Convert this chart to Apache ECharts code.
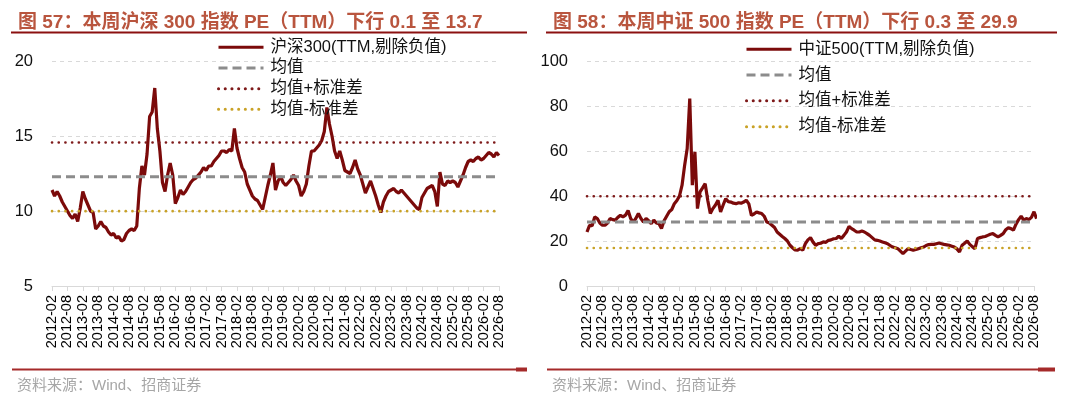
<!DOCTYPE html>
<html>
<head>
    <meta charset="UTF-8">
    <title>沪深300 / 中证500 PE(TTM)</title>
    <script src="https://cdn.jsdelivr.net/npm/echarts@6/dist/echarts.min.js"></script>
    <style>
        html, body {margin: 0; padding: 0; background: #fff;}
        #pe {width: 1080px; height: 408px;}
    </style>
</head>
<body>
<div id="pe"></div>
<script type="text/javascript">

    // monthly categories 2012-02 .. 2026-08
    var months = [];
    for (var y = 2012; y <= 2026; y++) {
        for (var mo = 1; mo <= 12; mo++) {
            if (y == 2012 && mo < 2) continue;
            if (y == 2026 && mo > 8) break;
            months.push(y + '-' + (mo < 10 ? '0' + mo : mo));
        }
    }

    var titleHs = '图 57：本周沪深 300 指数 PE（TTM）下行 0.1 至 13.7';
    var titleZz = '图 58：本周中证 500 指数 PE（TTM）下行 0.3 至 29.9';
    var source = '资料来源：Wind、招商证券';

    // 沪深300 PE(TTM), one value per month
    var hs300 = [
        11.4, 11.0, 11.3, 11.0, 10.6, 10.3, 10.0, 9.7, 9.5, 9.8, 9.3, 10.2,
        11.3, 10.8, 10.4, 10.0, 9.9, 8.8, 9.0, 9.3, 9.0, 8.9, 8.6, 8.4,
        8.5, 8.2, 8.3, 8.0, 8.1, 8.5, 8.7, 8.8, 8.7, 9.0, 11.5, 13.0,
        12.4, 13.8, 16.3, 16.6, 18.2, 15.5, 14.0, 11.9, 11.3, 12.4, 13.2, 12.4,
        10.5, 10.9, 11.4, 11.1, 11.3, 11.6, 11.9, 12.1, 12.2, 12.4, 12.6, 12.9,
        12.7, 13.0, 13.0, 13.3, 13.5, 13.7, 14.0, 14.0, 13.9, 14.1, 14.0, 15.5,
        14.2, 13.5, 12.9, 12.6, 11.8, 11.4, 11.0, 10.8, 10.7, 10.4, 10.1, 10.9,
        11.7, 12.4, 13.2, 11.4, 12.0, 12.3, 11.9, 11.7, 11.9, 12.1, 12.4, 12.0,
        11.7, 11.0, 11.3, 11.8, 13.0, 14.0, 14.0, 14.2, 14.4, 14.7, 15.3, 16.9,
        15.8, 15.0, 14.0, 13.5, 14.0, 13.4, 12.7, 12.6, 12.5, 12.9, 13.4, 12.8,
        12.4, 11.8, 11.2, 11.6, 12.0, 11.5, 11.0, 10.4, 9.9, 10.6, 11.0, 11.3,
        11.4, 11.5, 11.3, 11.2, 11.4, 11.2, 11.0, 10.8, 10.6, 10.4, 10.2, 10.1,
        10.9, 11.2, 11.5, 11.6, 11.7, 11.3, 10.3, 12.6, 11.8, 11.7, 12.0, 11.9,
        12.0, 11.9, 11.6, 12.0, 12.4, 12.9, 13.3, 13.4, 13.3, 13.5, 13.6, 13.4,
        13.5, 13.7, 13.9, 13.8, 13.6, 13.9, 13.7
    ];
    var hsMean = 12.28, hsUpper = 14.57, hsLower = 9.99;

    // 中证500 PE(TTM), one value per month
    var zz500 = [
        24.0, 27.0, 26.8, 30.7, 30.0, 28.0, 27.0, 27.0, 28.0, 30.0, 29.5, 29.3,
        30.5, 31.4, 30.7, 31.5, 33.6, 30.0, 28.4, 30.0, 32.2, 30.0, 28.4, 30.0,
        29.0, 27.7, 29.3, 28.0, 27.7, 25.5, 29.0, 31.0, 33.0, 34.0, 36.6, 38.0,
        40.0, 44.8, 53.6, 61.1, 83.3, 44.8, 59.6, 34.4, 41.8, 43.6, 45.5, 38.1,
        32.2, 34.4, 36.0, 38.1, 32.9, 36.0, 38.8, 37.5, 37.3, 36.8, 36.6, 37.0,
        36.8, 37.3, 38.1, 36.5, 31.4, 32.0, 32.9, 32.5, 32.2, 31.0, 28.4, 28.0,
        27.0, 26.0, 24.0, 23.0, 22.0, 21.1, 20.0, 18.1, 17.0, 16.0, 15.9, 16.6,
        15.9, 18.8, 20.5, 21.5, 19.5, 18.1, 18.8, 19.0, 19.6, 19.4, 20.3, 20.5,
        21.0, 21.1, 22.1, 21.1, 22.5, 24.0, 26.5, 25.5, 24.8, 24.0, 24.0, 24.4,
        24.0, 23.3, 22.5, 21.5, 20.5, 20.3, 20.0, 19.6, 19.2, 18.8, 18.0, 17.3,
        17.0, 16.6, 15.5, 14.4, 15.5, 16.6, 16.2, 15.9, 16.2, 16.6, 17.0, 17.3,
        18.0, 18.4, 18.5, 18.5, 18.8, 19.1, 18.8, 18.5, 18.3, 18.1, 17.7, 17.3,
        16.5, 15.1, 18.1, 19.0, 20.0, 18.5, 17.5, 16.6, 21.1, 21.5, 21.8, 22.0,
        22.5, 23.0, 23.3, 22.5, 21.8, 22.5, 23.3, 25.0, 25.9, 25.5, 24.8, 27.5,
        29.5, 31.0, 29.3, 30.0, 29.5, 30.5, 33.0, 29.9
    ];
    var zzMean = 28.4, zzUpper = 39.9, zzLower = 16.9;

    var hsName = '沪深300(TTM,剔除负值)';
    var zzName = '中证500(TTM,剔除负值)';
    var meanName = '均值', upName = '均值+标准差', lowName = '均值-标准差';

    var font = '"Liberation Sans", Arial, "Noto Sans CJK SC", sans-serif';
    var first = months[0], last = months[months.length - 1];

    function flat(v) {
        return [[first, v], [last, v]];
    }

    function xAxisOf(i) {
        return {
            type: 'category', gridIndex: i, data: months, boundaryGap: false,
            axisLine: {lineStyle: {color: '#d9d9d9', width: 1}},
            axisTick: {interval: 5, length: 5, lineStyle: {color: '#d9d9d9'}},
            axisLabel: {
                interval: 5, rotate: 90, margin: 9, color: '#000',
                fontFamily: font, fontSize: 14.5
            },
            splitLine: {show: false}
        };
    }

    function yAxisOf(i, min, max, step) {
        return {
            type: 'value', gridIndex: i, min: min, max: max, interval: step,
            axisLine: {show: false}, axisTick: {show: false},
            axisLabel: {margin: 19, color: '#111', fontFamily: font, fontSize: 16.5},
            splitLine: {lineStyle: {color: '#d9d9d9', type: [4, 4], width: 1}}
        };
    }

    function seriesOf(i, name, data, mean, upper, lower) {
        return [
            {
                name: name, type: 'line', xAxisIndex: i, yAxisIndex: i, data: data,
                symbol: 'none', lineStyle: {color: '#7b0a0a', width: 3.2}, itemStyle: {color: '#7b0a0a'}
            },
            {
                name: meanName, type: 'line', xAxisIndex: i, yAxisIndex: i, data: flat(mean),
                symbol: 'none', lineStyle: {color: '#8c8c8c', width: 3, type: [9, 5]}, itemStyle: {color: '#8c8c8c'}
            },
            {
                name: upName, type: 'line', xAxisIndex: i, yAxisIndex: i, data: flat(upper),
                symbol: 'none', lineStyle: {color: '#7e1a1a', width: 2.6, type: [0.1, 6.6], cap: 'round'},
                itemStyle: {color: '#7e1a1a'}
            },
            {
                name: lowName, type: 'line', xAxisIndex: i, yAxisIndex: i, data: flat(lower),
                symbol: 'none', lineStyle: {color: '#c9a227', width: 2.6, type: [0.1, 6.6], cap: 'round'},
                itemStyle: {color: '#c9a227'}
            }
        ];
    }

    function legendOf(left, top, gap, name) {
        return {
            orient: 'vertical', left: left, top: top, itemWidth: 45, itemHeight: 14, itemGap: gap,
            data: [name, meanName, upName, lowName],
            itemStyle: {opacity: 0},
            lineStyle: {width: 3},
            textStyle: {fontFamily: font, fontSize: 16.5, color: '#111', lineHeight: 14, padding: [0, 0, 0, 2]},
            selectedMode: false
        };
    }

    function rule(x1, x2, y, w, c) {
        return {type: 'line', shape: {x1: x1, y1: y, x2: x2, y2: y}, style: {stroke: c, lineWidth: w}, silent: true};
    }

    var myChart = echarts.init(document.getElementById('pe'));

    myChart.setOption({
        animation: false,
        title: [
            {text: titleHs, left: 13, top: 8, textStyle: {color: '#b9553e', fontSize: 19, fontWeight: 'bold', fontFamily: font}},
            {text: titleZz, left: 548, top: 8, textStyle: {color: '#b9553e', fontSize: 19, fontWeight: 'bold', fontFamily: font}},
            {text: source, left: 12, top: 373, textStyle: {color: '#a6a6a6', fontSize: 15, fontWeight: 'normal', fontFamily: font}},
            {text: source, left: 547, top: 373, textStyle: {color: '#a6a6a6', fontSize: 15, fontWeight: 'normal', fontFamily: font}}
        ],
        grid: [
            {left: 52, width: 447, top: 61, height: 225},
            {left: 587, width: 447, top: 61, height: 225}
        ],
        legend: [legendOf(212, 34, 4.2, hsName), legendOf(740, 36, 9.3, zzName)],
        xAxis: [xAxisOf(0), xAxisOf(1)],
        yAxis: [yAxisOf(0, 5, 20, 5), yAxisOf(1, 0, 100, 20)],
        series: seriesOf(0, hsName, hs300, hsMean, hsUpper, hsLower)
            .concat(seriesOf(1, zzName, zz500, zzMean, zzUpper, zzLower)),
        graphic: [
            rule(11, 527, 32.5, 2.2, '#8b1010'),
            rule(546, 1057, 32.5, 2.2, '#8b1010'),
            rule(12, 516, 369.5, 2, '#a52a2a'),
            rule(516, 527, 369.5, 4, '#a52a2a'),
            rule(547, 1038, 369.5, 2, '#a52a2a'),
            rule(1038, 1055, 369.5, 4, '#a52a2a')
        ]
    });
</script>
</body>
</html>
